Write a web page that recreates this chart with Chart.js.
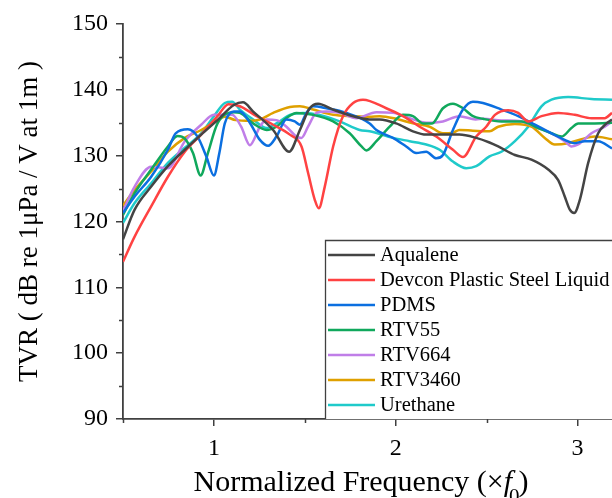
<!DOCTYPE html>
<html>
<head>
<meta charset="utf-8">
<script src="https://cdn.jsdelivr.net/npm/chart.js@4/dist/chart.umd.min.js"></script>
<style>
  html, body { margin: 0; padding: 0; background: #fff; }
  #wrap { width: 612px; height: 498px; position: relative; }
</style>
</head>
<body>
<div id="wrap"><canvas id="c" width="612" height="498"></canvas></div>
<script>
// ---- Data ----
const seriesNames = ["Aqualene", "Devcon Plastic Steel Liquid", "PDMS", "RTV55", "RTV664", "RTV3460", "Urethane"];

const aqualeneX = [0.5, 0.564, 0.655, 0.747, 0.84, 0.93, 1.02, 1.11, 1.16, 1.216, 1.326, 1.414, 1.473, 1.527, 1.573, 1.656, 1.766, 1.857, 1.912, 2.003, 2.095, 2.168, 2.26, 2.35, 2.443, 2.516, 2.564, 2.656, 2.747, 2.839, 2.894, 2.93, 2.958, 2.982, 3.013, 3.059, 3.114, 3.16, 3.19];
const aqualeneY = [117.3, 121.8, 125.3, 128.4, 130.9, 133.2, 135.4, 137.7, 138.1, 136.7, 133.9, 130.6, 133.9, 137.2, 137.9, 137.0, 136.0, 135.5, 135.5, 134.9, 133.7, 133.2, 133.2, 133.2, 132.7, 132.0, 131.4, 130.1, 129.4, 127.9, 126.3, 123.8, 121.8, 121.3, 123.3, 128.9, 133.4, 134.9, 135.5];

const devconX = [0.5, 0.564, 0.655, 0.747, 0.84, 0.93, 1.02, 1.08, 1.143, 1.235, 1.326, 1.418, 1.482, 1.518, 1.555, 1.577, 1.61, 1.656, 1.71, 1.766, 1.82, 1.948, 2.04, 2.132, 2.223, 2.315, 2.37, 2.443, 2.498, 2.546, 2.619, 2.674, 2.729, 2.802, 2.894, 2.985, 3.077, 3.15, 3.19];
const devconY = [113.9, 117.7, 122.3, 126.8, 130.6, 133.2, 136.0, 137.8, 137.5, 136.0, 134.7, 133.2, 131.4, 127.4, 123.3, 122.0, 125.3, 131.4, 136.0, 138.0, 138.5, 137.2, 136.0, 134.4, 132.9, 130.9, 129.8, 132.9, 134.4, 136.2, 136.9, 136.5, 135.2, 136.0, 136.5, 136.2, 135.7, 135.7, 136.5];

const pdmsX = [0.5, 0.564, 0.655, 0.747, 0.79, 0.857, 0.91, 0.958, 1.0, 1.03, 1.06, 1.11, 1.143, 1.2, 1.253, 1.299, 1.344, 1.399, 1.445, 1.473, 1.509, 1.546, 1.619, 1.729, 1.857, 1.894, 1.985, 2.058, 2.113, 2.168, 2.223, 2.26, 2.315, 2.37, 2.425, 2.48, 2.582, 2.674, 2.766, 2.857, 2.93, 2.985, 3.04, 3.114, 3.19];
const pdmsY = [121.3, 123.8, 126.8, 130.9, 133.4, 134.0, 132.9, 129.9, 127.0, 130.4, 134.9, 136.7, 136.7, 134.9, 132.4, 131.5, 132.9, 135.5, 135.2, 134.7, 136.5, 137.5, 137.2, 136.5, 134.9, 133.9, 132.7, 131.4, 130.4, 130.6, 129.6, 130.1, 133.9, 137.0, 138.2, 138.0, 137.0, 136.0, 134.7, 133.4, 132.4, 131.9, 132.2, 132.2, 131.1];

const rtv55X = [0.5, 0.564, 0.655, 0.747, 0.80, 0.84, 0.885, 0.927, 0.967, 1.02, 1.11, 1.143, 1.216, 1.29, 1.344, 1.399, 1.454, 1.546, 1.656, 1.747, 1.812, 1.839, 1.894, 1.967, 2.04, 2.095, 2.15, 2.2, 2.26, 2.315, 2.37, 2.425, 2.48, 2.582, 2.692, 2.784, 2.857, 2.912, 2.967, 3.004, 3.095, 3.19];
const rtv55Y = [121.0, 124.3, 127.9, 131.4, 133.0, 132.6, 130.4, 127.0, 130.4, 134.9, 136.6, 136.5, 134.9, 133.9, 134.4, 135.7, 136.5, 136.2, 135.2, 133.4, 131.4, 130.8, 132.2, 134.4, 136.2, 136.0, 134.9, 134.9, 137.2, 137.9, 137.2, 136.0, 135.6, 135.2, 135.2, 134.2, 133.4, 132.9, 134.2, 134.9, 134.9, 135.0];

const rtv664X = [0.5, 0.564, 0.655, 0.747, 0.84, 0.93, 1.0, 1.1, 1.15, 1.198, 1.253, 1.29, 1.344, 1.399, 1.454, 1.482, 1.518, 1.564, 1.619, 1.692, 1.784, 1.894, 1.985, 2.077, 2.168, 2.26, 2.35, 2.44, 2.48, 2.582, 2.692, 2.784, 2.857, 2.93, 2.967, 3.004, 3.077, 3.15, 3.19];
const rtv664Y = [121.6, 125.3, 128.3, 128.1, 132.2, 134.7, 136.2, 136.2, 134.4, 131.6, 134.4, 135.5, 135.4, 134.4, 132.9, 132.7, 134.4, 136.5, 136.7, 136.5, 135.7, 136.6, 136.5, 135.7, 135.0, 135.2, 136.0, 135.5, 135.6, 135.35, 135.2, 134.2, 133.4, 132.2, 131.4, 131.7, 133.4, 134.4, 135.2];

const rtv3460X = [0.5, 0.564, 0.655, 0.747, 0.84, 0.93, 1.02, 1.06, 1.12, 1.2, 1.253, 1.326, 1.418, 1.473, 1.546, 1.656, 1.766, 1.857, 1.912, 2.003, 2.095, 2.187, 2.26, 2.315, 2.35, 2.425, 2.516, 2.564, 2.656, 2.747, 2.82, 2.875, 2.949, 3.022, 3.095, 3.19];
const rtv3460Y = [122.4, 124.8, 127.6, 130.6, 132.7, 133.9, 135.4, 135.9, 135.4, 135.3, 135.5, 136.5, 137.4, 137.5, 137.0, 136.2, 136.0, 135.9, 136.0, 135.6, 134.9, 134.4, 133.4, 133.5, 133.9, 133.8, 133.7, 134.4, 134.8, 134.4, 132.7, 131.7, 131.9, 132.5, 132.9, 132.5];

const urethaneX = [0.5, 0.564, 0.655, 0.747, 0.84, 0.93, 1.0, 1.06, 1.1, 1.143, 1.216, 1.29, 1.344, 1.418, 1.491, 1.582, 1.692, 1.802, 1.857, 1.985, 2.077, 2.168, 2.242, 2.315, 2.388, 2.443, 2.516, 2.582, 2.656, 2.729, 2.802, 2.857, 2.949, 3.077, 3.19];
const urethaneY = [119.8, 122.8, 125.8, 128.9, 131.2, 133.4, 136.0, 138.0, 138.2, 137.0, 135.5, 134.2, 134.9, 136.2, 136.5, 136.2, 135.2, 133.9, 133.7, 132.7, 132.2, 131.7, 130.9, 129.1, 128.1, 128.4, 129.9, 130.6, 132.2, 134.4, 137.5, 138.5, 138.9, 138.6, 138.5];

const xMajorTicks = [1, 2, 3];
const xMinorTicks = [0.5, 1.5, 2.5];
const yMajorTicks = [90, 100, 110, 120, 130, 140, 150];
const yMinorTicks = [95, 105, 115, 125, 135, 145];

// ---- Styling ----
const colors = ["#444444", "#ff4242", "#0b6fe0", "#10a85c", "#c07ee8", "#dfa000", "#1fcaca"];
const serif = "'Liberation Serif', 'Times New Roman', serif";

const xs = [aqualeneX, devconX, pdmsX, rtv55X, rtv664X, rtv3460X, urethaneX];
const ys = [aqualeneY, devconY, pdmsY, rtv55Y, rtv664Y, rtv3460Y, urethaneY];

const datasets = seriesNames.map((name, i) => ({
  label: name,
  data: xs[i].map((x, j) => ({ x: x, y: ys[i][j] })),
  borderColor: colors[i],
  backgroundColor: colors[i],
  borderWidth: 2.5,
  pointRadius: 0,
  cubicInterpolationMode: 'monotone',
  fill: false
}));

const AXIS_COLOR = "#404040";

const extrasPlugin = {
  id: 'extras',
  afterDraw(chart) {
    const ctx = chart.ctx;
    const xS = chart.scales.x, yS = chart.scales.y;
    const area = chart.chartArea;
    ctx.save();
    // minor ticks
    ctx.strokeStyle = AXIS_COLOR;
    ctx.lineWidth = 1.5;
    ctx.beginPath();
    xMinorTicks.forEach(v => {
      const px = Math.round(xS.getPixelForValue(v)) + 0.5;
      ctx.moveTo(px, area.bottom);
      ctx.lineTo(px, area.bottom + 4);
    });
    yMinorTicks.forEach(v => {
      const py = Math.round(yS.getPixelForValue(v)) + 0.5;
      ctx.moveTo(area.left, py);
      ctx.lineTo(area.left - 4, py);
    });
    ctx.stroke();

    // legend box
    const bx = 325, by = 240;
    ctx.fillStyle = '#ffffff';
    ctx.fillRect(bx, by, chart.width - bx, area.bottom - by);
    ctx.strokeStyle = AXIS_COLOR;
    ctx.lineWidth = 1.3;
    ctx.beginPath();
    ctx.moveTo(chart.width + 2, by + 0.5);
    ctx.lineTo(bx + 0.5, by + 0.5);
    ctx.lineTo(bx + 0.5, area.bottom);
    ctx.stroke();
    ctx.font = "20.5px " + serif;
    ctx.textBaseline = 'middle';
    ctx.textAlign = 'left';
    chart.data.datasets.forEach((ds, i) => {
      const yy = 255 + i * 25;
      ctx.strokeStyle = ds.borderColor;
      ctx.lineWidth = 2.4;
      ctx.beginPath();
      ctx.moveTo(328, yy);
      ctx.lineTo(375, yy);
      ctx.stroke();
      ctx.fillStyle = '#000';
      ctx.fillText(ds.label, 380, yy + 1);
    });

    // x axis title with italic f and subscript 0
    const size = 30;
    const parts = [
      { t: "Normalized Frequency (\u00d7", f: size + "px " + serif, dy: 0 },
      { t: "f", f: "italic " + size + "px " + serif, dy: 0 },
      { t: "0", f: Math.round(size * 0.7) + "px " + serif, dy: 12 },
      { t: ")", f: size + "px " + serif, dy: 0 }
    ];
    let total = 0;
    parts.forEach(p => { ctx.font = p.f; p.w = ctx.measureText(p.t).width; total += p.w; });
    parts[2].w -= 4; total -= 4;
    let cx = 361 - total / 2;
    const baseY = 491;
    ctx.fillStyle = '#000';
    ctx.textBaseline = 'alphabetic';
    parts.forEach((p, k) => {
      ctx.font = p.f;
      const off = (k === 2) ? -3 : 0;
      ctx.fillText(p.t, cx + off, baseY + p.dy);
      cx += p.w;
    });
    ctx.restore();
  }
};

new Chart(document.getElementById('c'), {
  type: 'line',
  data: { datasets: datasets },
  plugins: [extrasPlugin],
  options: {
    responsive: false,
    animation: false,
    events: [],
    layout: { padding: { top: 24, right: 0, left: 0, bottom: 0 } },
    plugins: { legend: { display: false }, tooltip: { enabled: false }, title: { display: false } },
    scales: {
      x: {
        type: 'linear',
        min: 0.5,
        max: 3.19,
        afterBuildTicks: (s) => { s.ticks = xMajorTicks.map(v => ({ value: v })); },
        afterFit: (s) => { s.height = 79; },
        grid: { drawOnChartArea: false, drawTicks: true, tickLength: 7, color: AXIS_COLOR, lineWidth: 1.5 },
        border: { display: true, color: AXIS_COLOR, width: 1.8 },
        ticks: { color: '#000', font: { family: serif, size: 24 }, padding: 8, maxRotation: 0,
                 callback: (v) => String(v) },
        title: { display: false }
      },
      y: {
        type: 'linear',
        min: 90,
        max: 150,
        afterBuildTicks: (s) => { s.ticks = yMajorTicks.map(v => ({ value: v })); },
        afterFit: (s) => { s.width = 123; },
        grid: { drawOnChartArea: false, drawTicks: true, tickLength: 7, color: AXIS_COLOR, lineWidth: 1.5 },
        border: { display: true, color: AXIS_COLOR, width: 1.8 },
        ticks: { color: '#000', font: { family: serif, size: 24 }, padding: 8,
                 callback: (v) => String(v) },
        title: { display: true, text: 'TVR ( dB re 1\u03bcPa / V at 1m )', color: '#000',
                 font: { family: serif, size: 27, lineHeight: 1.2 }, padding: { top: 14, bottom: 0 } }
      }
    }
  }
});
</script>
</body>
</html>
